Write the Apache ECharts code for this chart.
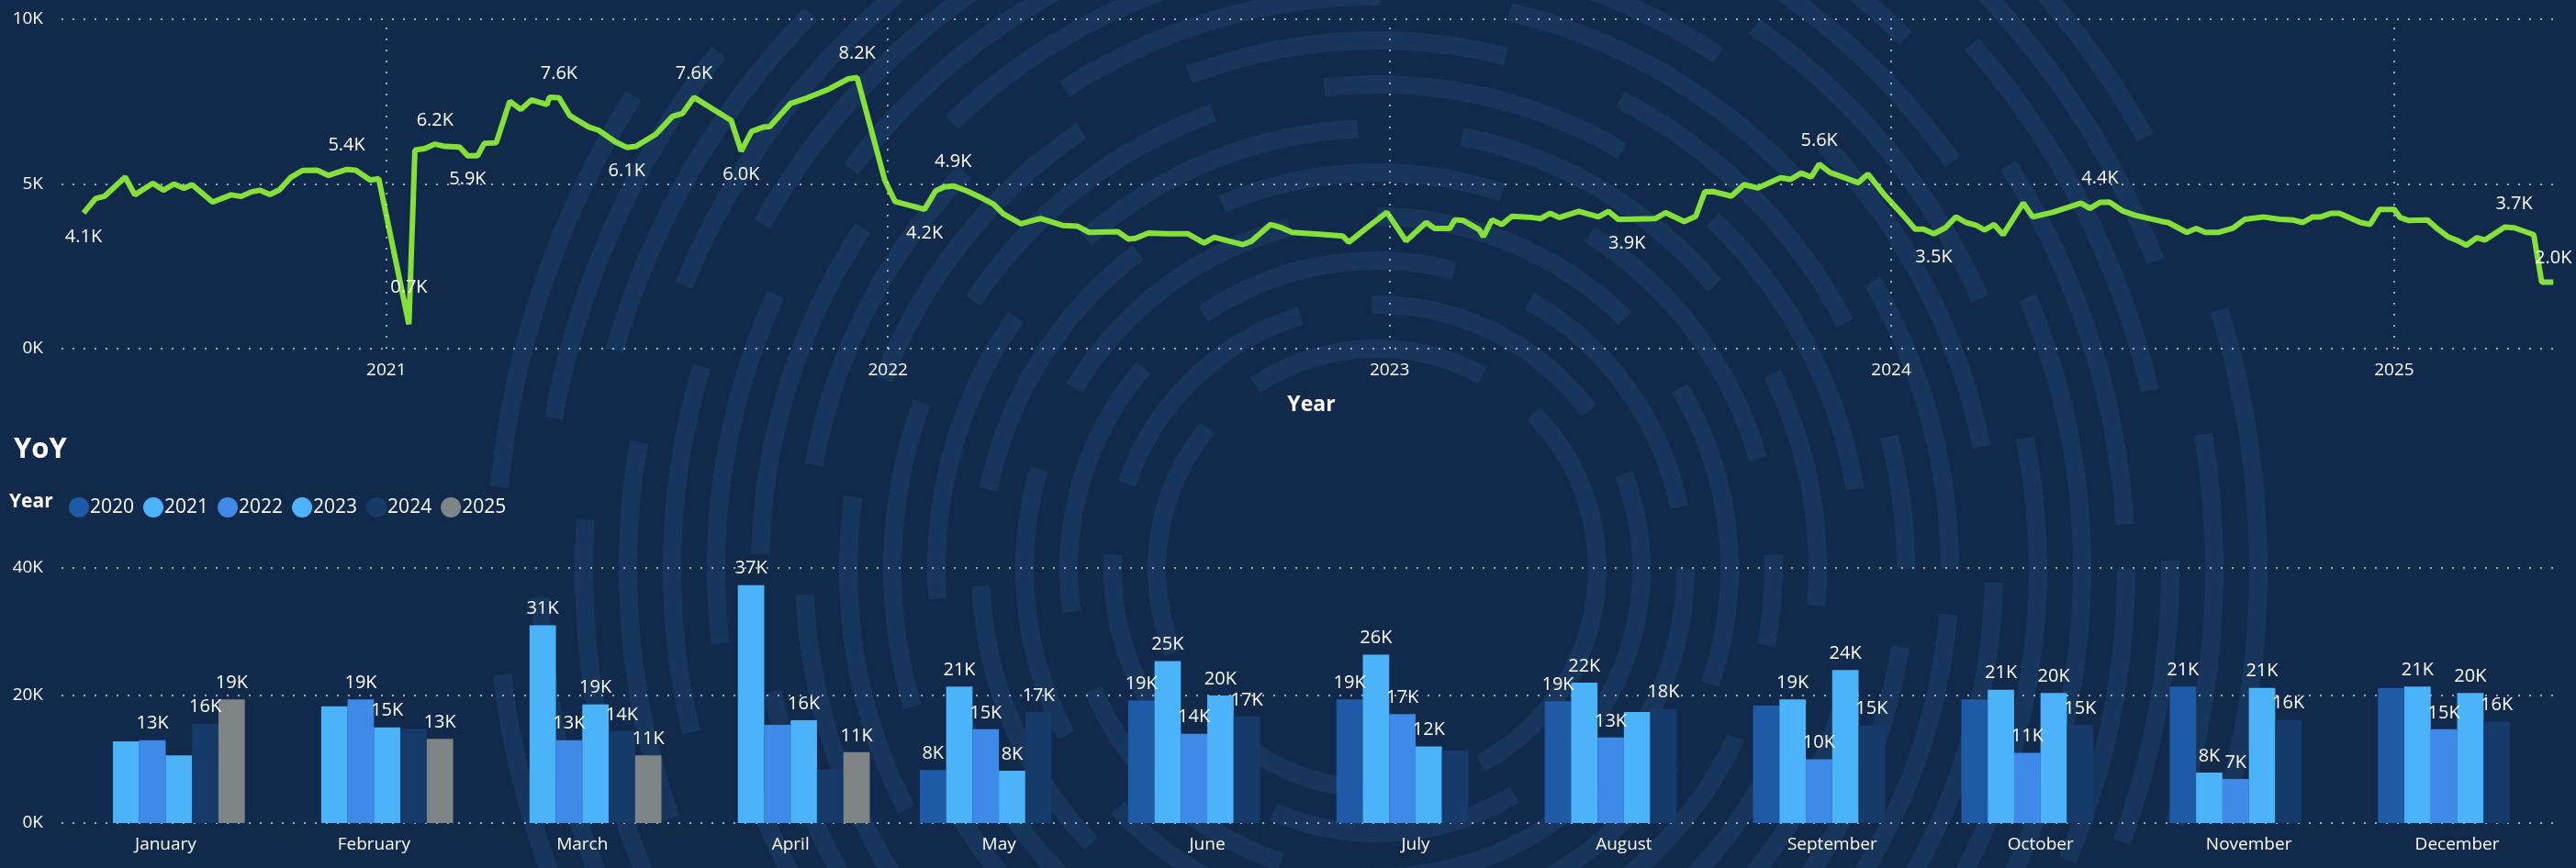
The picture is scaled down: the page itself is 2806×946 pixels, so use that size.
<!DOCTYPE html>
<html>
<head>
<meta charset="utf-8">
<script src="https://cdn.jsdelivr.net/npm/echarts@6/dist/echarts.min.js"></script>
<style>
  html, body { margin: 0; padding: 0; background: #112a4c; }
  #main { width: 2806px; height: 946px; }
</style>
</head>
<body>
<div id="main"></div>
<script>
// weekly trend, x in decimal years, y in thousands
const trendYears = [2020.399,2020.423,2020.441,2020.482,2020.501,2020.537,2020.558,2020.579,2020.599,2020.615,2020.656,2020.693,2020.713,2020.733,2020.750,2020.770,2020.789,2020.811,2020.835,2020.864,2020.887,2020.923,2020.941,2020.970,2020.987,
  2021.045,2021.057,2021.076,2021.097,2021.117,2021.146,2021.162,2021.182,2021.195,2021.219,2021.246,2021.268,2021.289,2021.320,2021.325,2021.344,2021.366,2021.403,2021.423,2021.456,2021.479,2021.497,2021.537,2021.570,2021.590,2021.613,
  2021.687,2021.707,2021.728,2021.752,2021.764,2021.805,2021.838,2021.879,2021.920,2021.938,2021.993,2022.014,2022.073,2022.095,2022.112,2022.130,2022.157,2022.189,2022.210,2022.230,2022.265,2022.304,2022.348,2022.377,2022.401,2022.458,2022.479,2022.493,2022.519,2022.556,2022.597,2022.630,2022.650,2022.707,2022.724,2022.762,2022.781,2022.805,2022.865,
  2022.906,2022.918,2022.951,2022.994,2023.033,2023.073,2023.090,2023.120,2023.130,2023.147,2023.179,2023.187,2023.204,2023.224,2023.244,2023.285,2023.301,2023.320,2023.338,2023.377,2023.416,2023.436,2023.455,2023.473,2023.530,2023.550,2023.587,2023.610,2023.628,2023.644,2023.681,2023.706,2023.734,2023.779,2023.799,2023.820,2023.840,2023.856,2023.877,2023.934,2023.953,2023.987,2024.024,2024.048,2024.064,2024.085,2024.108,
  2024.129,2024.149,2024.170,2024.186,2024.205,2024.223,2024.263,2024.282,2024.322,2024.378,2024.396,2024.416,2024.435,2024.460,2024.486,2024.540,2024.552,2024.589,2024.608,2024.626,2024.651,2024.680,2024.705,2024.741,2024.774,2024.799,2024.820,2024.840,2024.856,2024.877,2024.893,2024.935,2024.954,2024.973,2025.000,2025.012,2025.029,2025.066,2025.087,2025.107,2025.128,2025.144,2025.165,2025.181,2025.220,2025.239,2025.278,2025.294,2025.317];
const trendValues = [4.12,4.56,4.63,5.21,4.67,5.02,4.81,5.0,4.87,4.98,4.45,4.67,4.62,4.76,4.81,4.68,4.82,5.19,5.41,5.42,5.26,5.44,5.42,5.12,5.16,
  0.74,6.03,6.07,6.21,6.14,6.12,5.86,5.86,6.23,6.25,7.51,7.26,7.55,7.41,7.63,7.62,7.07,6.73,6.63,6.28,6.11,6.14,6.51,7.05,7.14,7.63,
  6.93,6.0,6.6,6.73,6.74,7.44,7.61,7.86,8.19,8.23,5.12,4.47,4.23,4.79,4.91,4.94,4.79,4.56,4.39,4.09,3.79,3.95,3.74,3.72,3.53,3.55,3.33,3.35,3.51,3.49,3.49,3.21,3.38,3.16,3.26,3.77,3.69,3.53,3.47,
  3.42,3.23,3.63,4.14,3.27,3.83,3.65,3.65,3.91,3.89,3.61,3.40,3.91,3.77,4.02,3.98,3.95,4.11,3.98,4.17,4.0,4.17,3.93,3.93,3.95,4.13,3.86,4.02,4.76,4.77,4.63,4.98,4.88,5.19,5.14,5.33,5.21,5.60,5.35,5.04,5.30,4.65,4.05,3.63,3.63,3.49,3.67,
  4.0,3.83,3.74,3.60,3.77,3.46,4.42,4.0,4.14,4.42,4.26,4.44,4.45,4.19,4.05,3.86,3.83,3.53,3.65,3.53,3.53,3.65,3.93,4.0,3.93,3.91,3.83,4.0,4.0,4.11,4.11,3.83,3.77,4.23,4.23,3.98,3.89,3.91,3.63,3.40,3.27,3.14,3.37,3.30,3.69,3.67,3.46,2.02,2.02];
// labelled points: [year, position]
const trendLabels = [[2020.399,'bottom'],[2020.923,'top'],[2021.045,'top'],[2021.097,'top'],[2021.162,'bottom'],[2021.344,'top'],
  [2021.479,'bottom'],[2021.613,'top'],[2021.707,'bottom'],[2021.938,'top'],[2022.073,'bottom'],[2022.130,'top'],
  [2023.473,'bottom'],[2023.856,'top'],[2024.085,'bottom'],[2024.416,'top'],[2025.239,'top'],[2025.317,'top']];
const yearTicks = [2021, 2022, 2023, 2024, 2025];

const months = ['January','February','March','April','May','June','July','August','September','October','November','December'];
const years = ['2020','2021','2022','2023','2024','2025'];
const yearColors = ['#1f5aa6','#4db3f8','#3f8ae6','#4db3f8','#163a69','#7f8487'];
const v2020 = [null,null,null,null,8.3,19.2,19.4,19.1,18.4,19.4,21.4,21.2];
const v2021 = [12.8,18.3,31.0,37.3,21.4,25.4,26.4,22.0,19.4,20.9,7.9,21.4];
const v2022 = [13.0,19.4,13.0,15.4,14.7,14.0,17.1,13.4,10.0,11.0,6.9,14.7];
const v2023 = [10.6,15.0,18.6,16.1,8.2,20.0,12.0,17.4,24.0,20.4,21.2,20.4];
const v2024 = [15.6,14.8,14.4,8.4,17.4,16.7,11.4,17.9,15.3,15.4,16.2,15.9];
const v2025 = [19.4,13.2,10.6,11.1,null,null,null,null,null,null,null,null];
const yoyValues = [v2020, v2021, v2022, v2023, v2024, v2025];

const FONT = "'Segoe UI','Open Sans','Noto Sans',sans-serif";
const chart = echarts.init(document.getElementById('main'));

const toMs = y => { const yr = Math.floor(y); return Date.UTC(yr, 0, 1) + (y - yr) * 365.25 * 864e5; };
const labelMap = {};
trendLabels.forEach(l => { labelMap[l[0]] = l[1]; });
const lineData = trendYears.map((y, i) => {
  const pos = labelMap[y];
  const item = { value: [toMs(y), trendValues[i]] };
  if (pos) item.label = { show: true, position: pos, distance: y === 2021.045 ? 30 : 16 };
  return item;
});

// decorative arcs in the background
const arcs = [];
for (let i = 0; i < 16; i++) {
  arcs.push({
    type: 'circle', silent: true, z: -10,
    shape: { cx: 1500, cy: 620, r: 240 + i * 48 },
    style: { fill: 'none', stroke: 'rgba(70,125,185,0.15)', lineWidth: 20, lineDash: [260 + i * 13, 70 + i * 9], lineDashOffset: i * 57 }
  });
}

const dotted = { color: 'rgba(255,255,255,0.6)', type: [2, 10], width: 2 };
const axisText = { color: '#ffffff', fontSize: 19, fontFamily: FONT };

chart.setOption({
  backgroundColor: '#112a4c',
  animation: false,
  textStyle: { fontFamily: FONT },
  title: { text: 'YoY', left: 10, top: 470, textStyle: { color: '#fff', fontSize: 31, fontWeight: 'bold', fontFamily: FONT } },
  graphic: arcs.concat([{ type: 'text', left: 10, top: 537, style: { text: 'Year', fill: '#fff', fontSize: 21, fontWeight: 'bold', fontFamily: FONT } }]),
  legend: {
    left: 70, top: 537, itemWidth: 22, itemHeight: 22, itemGap: 10, icon: 'circle',
    textStyle: { color: '#fff', fontSize: 21, fontFamily: FONT, padding: [0, 0, 0, -4] },
    data: years
  },
  grid: [
    { left: 67, right: 16, top: 21, bottom: 566 },
    { left: 67, right: 16, top: 619, bottom: 49 }
  ],
  xAxis: [
    {
      type: 'time', gridIndex: 0, min: toMs(2020.355), max: toMs(2025.333),
      name: 'Year', nameLocation: 'middle', nameGap: 50,
      nameTextStyle: { color: '#fff', fontSize: 23, fontWeight: 'bold', fontFamily: FONT },
      axisLine: { show: false }, axisTick: { show: false }, splitLine: { show: false },
      axisLabel: { show: false }
    },
    {
      type: 'category', gridIndex: 1, data: months,
      axisLine: { show: false }, axisTick: { show: false },
      axisLabel: Object.assign({ margin: 14 }, axisText)
    }
  ],
  yAxis: [
    {
      type: 'value', gridIndex: 0, min: 0, max: 10, interval: 5,
      axisLabel: Object.assign({ formatter: v => v + 'K', margin: 20 }, axisText),
      splitLine: { lineStyle: dotted }
    },
    {
      type: 'value', gridIndex: 1, min: 0, max: 40, interval: 20,
      axisLabel: Object.assign({ formatter: v => v + 'K', margin: 20 }, axisText),
      splitLine: { lineStyle: dotted }
    }
  ],
  series: [
    {
      type: 'line', xAxisIndex: 0, yAxisIndex: 0, data: lineData,
      showSymbol: true, symbol: 'circle', symbolSize: 0,
      lineStyle: { color: '#86e03a', width: 6 }, itemStyle: { color: '#86e03a' },
      label: { show: false, color: '#fff', fontSize: 20, fontFamily: FONT, formatter: p => p.value[1].toFixed(1) + 'K' },
      markLine: {
        silent: true, symbol: 'none',
        lineStyle: dotted,
        label: { show: true, position: 'start', distance: 14, color: '#fff', fontSize: 19, fontFamily: FONT, formatter: p => String(yearTicks[p.dataIndex]) },
        data: yearTicks.map(y => ({ xAxis: toMs(y) }))
      }
    }
  ].concat(years.map((yr, i) => ({
    name: yr, type: 'bar', xAxisIndex: 1, yAxisIndex: 1,
    data: yoyValues[i], barGap: '0%', barCategoryGap: '24%',
    itemStyle: { color: yearColors[i] },
    label: { show: true, position: 'top', distance: 8, color: '#fff', fontSize: 20, fontFamily: FONT, formatter: p => Math.round(p.value) + 'K' },
    labelLayout: { hideOverlap: true }
  })))
});
</script>
</body>
</html>
